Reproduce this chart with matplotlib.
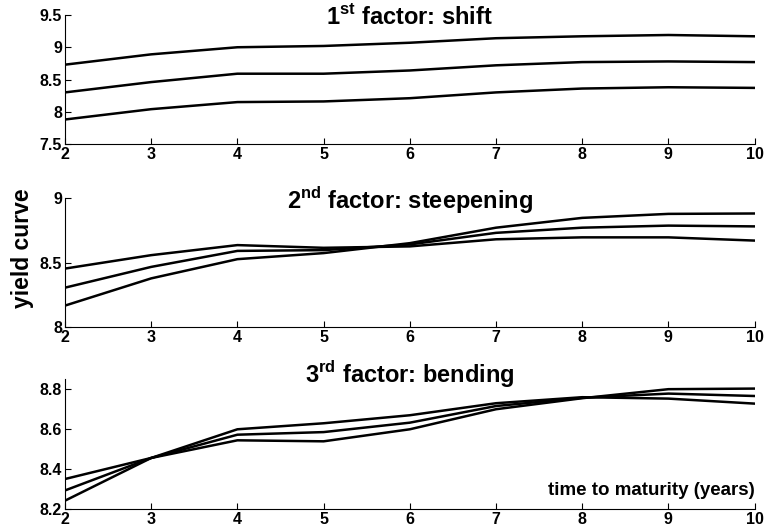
import matplotlib
matplotlib.use('Agg')
import matplotlib.pyplot as plt
from matplotlib.ticker import FormatStrFormatter

plt.rcParams['font.family'] = ['Liberation Sans', 'DejaVu Sans']
plt.rcParams['font.weight'] = 'bold'
plt.rcParams['mathtext.fontset'] = 'custom'
plt.rcParams['mathtext.rm'] = 'Liberation Sans:bold'
plt.rcParams['mathtext.bf'] = 'Liberation Sans:bold'

maturity = [2, 3, 4, 5, 6, 7, 8, 9, 10]

# 1st factor: shift
shift_up = [8.73, 8.89, 9.00, 9.02, 9.07, 9.14, 9.17, 9.19, 9.17]
shift_mid = [8.30, 8.46, 8.59, 8.59, 8.64, 8.72, 8.77, 8.78, 8.77]
shift_down = [7.88, 8.04, 8.15, 8.16, 8.21, 8.30, 8.36, 8.38, 8.37]

# 2nd factor: steepening
steep_flat = [8.453, 8.557, 8.635, 8.614, 8.625, 8.68, 8.695, 8.695, 8.67]
steep_mid = [8.305, 8.466, 8.59, 8.596, 8.64, 8.73, 8.77, 8.786, 8.78]
steep_steep = [8.166, 8.377, 8.526, 8.573, 8.65, 8.77, 8.846, 8.877, 8.88]

# 3rd factor: bending
bend_a = [8.352, 8.457, 8.545, 8.54, 8.60, 8.70, 8.755, 8.80, 8.803]
bend_b = [8.295, 8.457, 8.573, 8.586, 8.633, 8.716, 8.757, 8.778, 8.766]
bend_c = [8.244, 8.457, 8.60, 8.63, 8.67, 8.73, 8.76, 8.753, 8.728]

panels = [
    ('1$^{\\mathrm{st}}$ factor: shift', [shift_up, shift_mid, shift_down],
     (7.5, 9.5), [7.5, 8, 8.5, 9, 9.5], 0.93),
    ('2$^{\\mathrm{nd}}$ factor: steepening', [steep_flat, steep_mid, steep_steep],
     (8, 9), [8, 8.5, 9], 0.912),
    ('3$^{\\mathrm{rd}}$ factor: bending', [bend_a, bend_b, bend_c],
     (8.2, 8.85), [8.2, 8.4, 8.6, 8.8], 0.97),
]
positions = [[0.0846, 0.7293, 0.898, 0.2425],
             [0.0846, 0.3853, 0.898, 0.2425],
             [0.0846, 0.0423, 0.898, 0.2450]]

fig = plt.figure(figsize=(7.68, 5.32), dpi=100)
for i, (title, curves, ylim, yticks, ty) in enumerate(panels):
    ax = fig.add_axes(positions[i])
    for c in curves:
        ax.plot(maturity, c, color='black', linewidth=1.8)
    ax.set_xlim(2, 10)
    ax.set_ylim(*ylim)
    ax.set_xticks(maturity)
    ax.set_yticks(yticks)
    ax.yaxis.set_major_formatter(FormatStrFormatter('%g'))
    ax.spines['top'].set_visible(False)
    ax.spines['right'].set_visible(False)
    ax.tick_params(direction='in', length=4, width=0.8, labelsize=11.5, pad=2)
    for lab in ax.get_xticklabels() + ax.get_yticklabels():
        lab.set_fontweight('bold')
    ax.text(0.5, ty, title, transform=ax.transAxes, ha='center', va='baseline',
            fontsize=17, fontweight='bold')
    if i == 2:
        ax.text(1.0, 0.11, 'time to maturity (years)', transform=ax.transAxes,
                ha='right', va='baseline', fontsize=13.5, fontweight='bold')

fig.text(0.029, 0.534, 'yield curve', rotation=90, ha='center', va='center',
         fontsize=16.5, fontweight='bold')

plt.savefig('out.png', dpi=100)
